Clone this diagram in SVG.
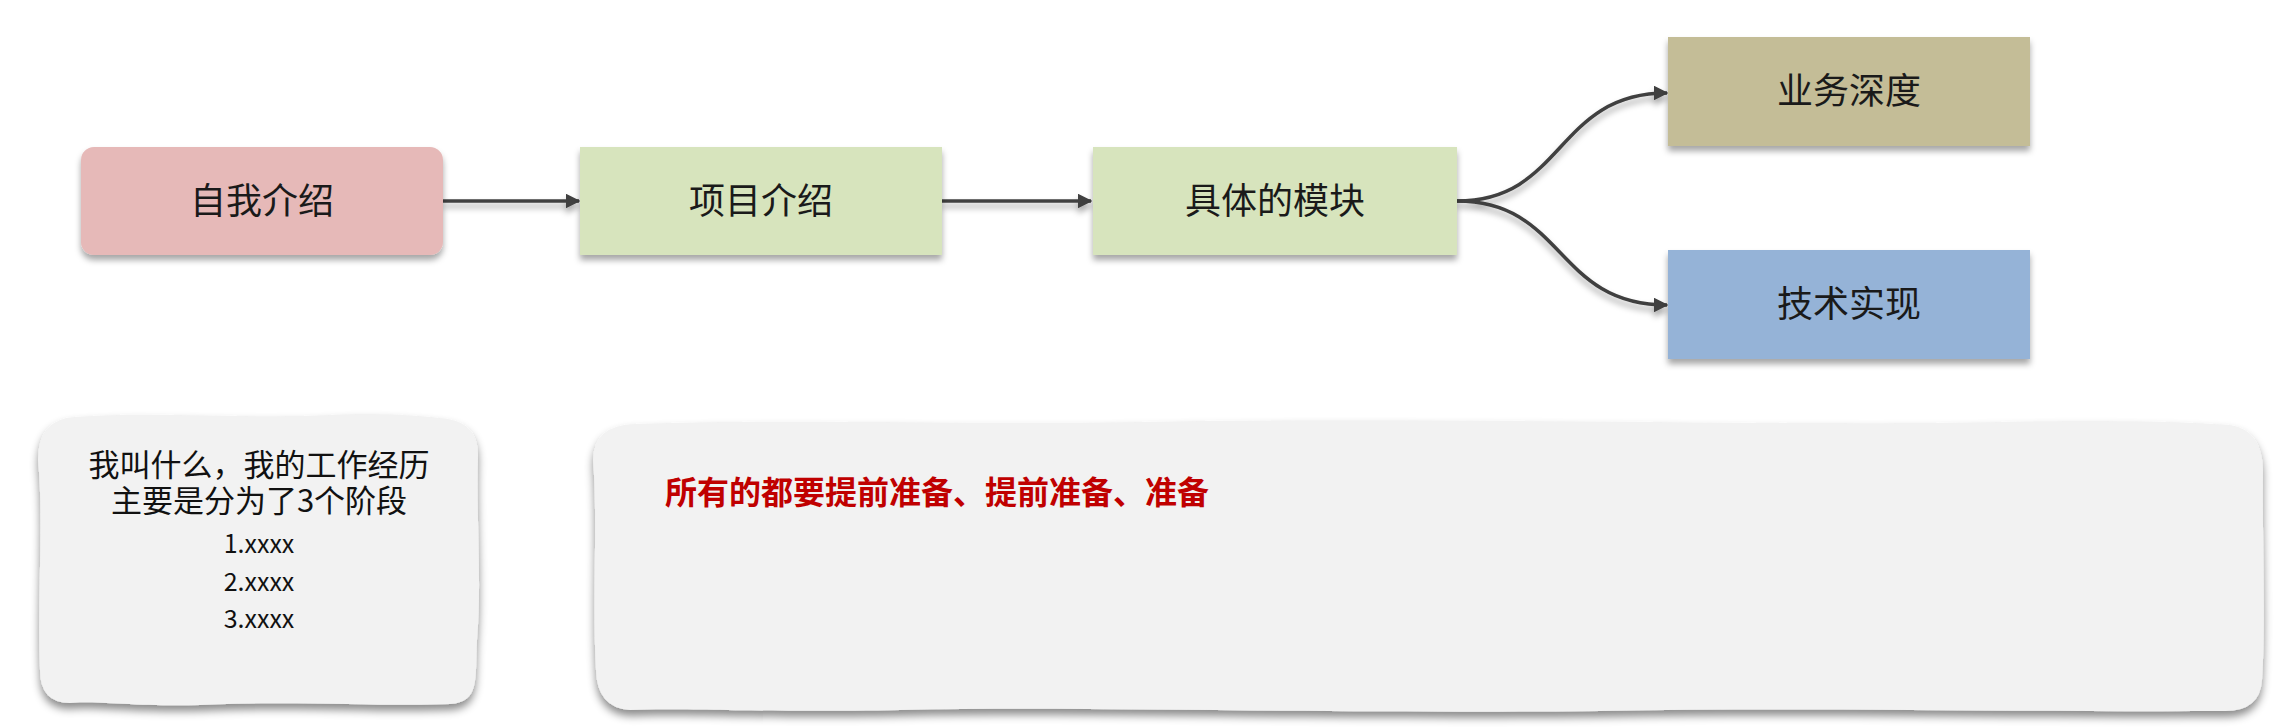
<svg xmlns="http://www.w3.org/2000/svg" width="2290" height="727" viewBox="0 0 2290 727">
<style>
.lbl{font-family:"Noto Sans CJK SC","Noto Sans",sans-serif;font-size:36px;fill:#1a1a1a;text-anchor:middle}
.note{font-family:"Noto Sans CJK SC","Noto Sans",sans-serif;font-size:31px;fill:#111;text-anchor:middle}
.small{font-size:25px}
.red{font-family:"Noto Sans CJK SC",sans-serif;font-size:32px;font-weight:700;fill:#C00000}
.conn{fill:none;stroke:#404040;stroke-width:3.5}
.paper{fill:#F2F2F2}
</style>
<defs>
<filter id="sh" x="-10%" y="-20%" width="120%" height="150%">
<feDropShadow dx="0" dy="5" stdDeviation="3" flood-color="#000" flood-opacity="0.35"/>
</filter>
<filter id="psh" x="-5%" y="-10%" width="110%" height="125%">
<feDropShadow dx="0" dy="6" stdDeviation="4" flood-color="#000" flood-opacity="0.45"/>
</filter>
<marker id="ah" viewBox="0 0 10 10" refX="9" refY="5" markerWidth="4.2" markerHeight="4.2" orient="auto" markerUnits="strokeWidth">
<path d="M0,0 L10,5 L0,10 Z" fill="#404040"/>
</marker>
</defs>
<rect width="2290" height="727" fill="#ffffff"/>

<g id="connectors" filter="url(#sh)">
<path class="conn" d="M443,201 L579,201" marker-end="url(#ah)"/>
<path class="conn" d="M942,201 L1091,201" marker-end="url(#ah)"/>
<path class="conn" d="M1457,201 C1565,201 1555,93 1667,93" marker-end="url(#ah)"/>
<path class="conn" d="M1457,201 C1565,201 1555,305 1667,305" marker-end="url(#ah)"/>
</g>

<g id="node-intro">
<rect x="81" y="147" width="362" height="108" rx="13" fill="#E6B9B8" filter="url(#sh)"/>
<text class="lbl" x="262" y="214">自我介绍</text>
</g>
<g id="node-project">
<rect x="580" y="147" width="362" height="108" fill="#D7E4BD" filter="url(#sh)"/>
<text class="lbl" x="761" y="214">项目介绍</text>
</g>
<g id="node-module">
<rect x="1093" y="147" width="364" height="108" fill="#D7E4BD" filter="url(#sh)"/>
<text class="lbl" x="1275" y="214">具体的模块</text>
</g>
<g id="node-business">
<rect x="1668" y="37" width="362" height="109" fill="#C4BD97" filter="url(#sh)"/>
<text class="lbl" x="1849" y="104">业务深度</text>
</g>
<g id="node-tech">
<rect x="1668" y="250" width="362" height="109" fill="#95B3D7" filter="url(#sh)"/>
<text class="lbl" x="1849" y="317">技术实现</text>
</g>

<g id="note-left">
<path class="paper" filter="url(#psh)" d="M75,417 C150,411 250,419 330,415 C390,412 430,417 448,419 Q478,424 478,455 C476,520 482,580 477,640 C475,680 480,702 450,704 C380,707 300,700 200,705 C140,707 90,700 70,703 Q40,703 40,670 C37,600 44,520 38,460 Q38,419 75,417 Z"/>
<text class="note"><tspan x="259" y="476">我叫什么，我的工作经历</tspan><tspan x="259" y="512">主要是分为了3个阶段</tspan><tspan class="small" x="259" y="553">1.xxxx</tspan><tspan class="small" x="259" y="591">2.xxxx</tspan><tspan class="small" x="259" y="628">3.xxxx</tspan></text>
</g>

<g id="note-right">
<path class="paper" filter="url(#psh)" d="M635,424 C800,418 1000,426 1200,421 C1500,418 1800,426 2000,422 C2150,419 2210,424 2230,425 Q2262,430 2263,470 C2262,540 2266,620 2262,680 Q2260,711 2225,711 C2000,712 1800,707 1600,711 C1300,714 1100,706 900,710 C750,713 680,707 630,710 Q597,708 596,670 C592,600 598,520 593,460 Q594,425 635,424 Z"/>
<text class="red" x="665" y="504">所有的都要提前准备、提前准备、准备</text>
</g>
</svg>
